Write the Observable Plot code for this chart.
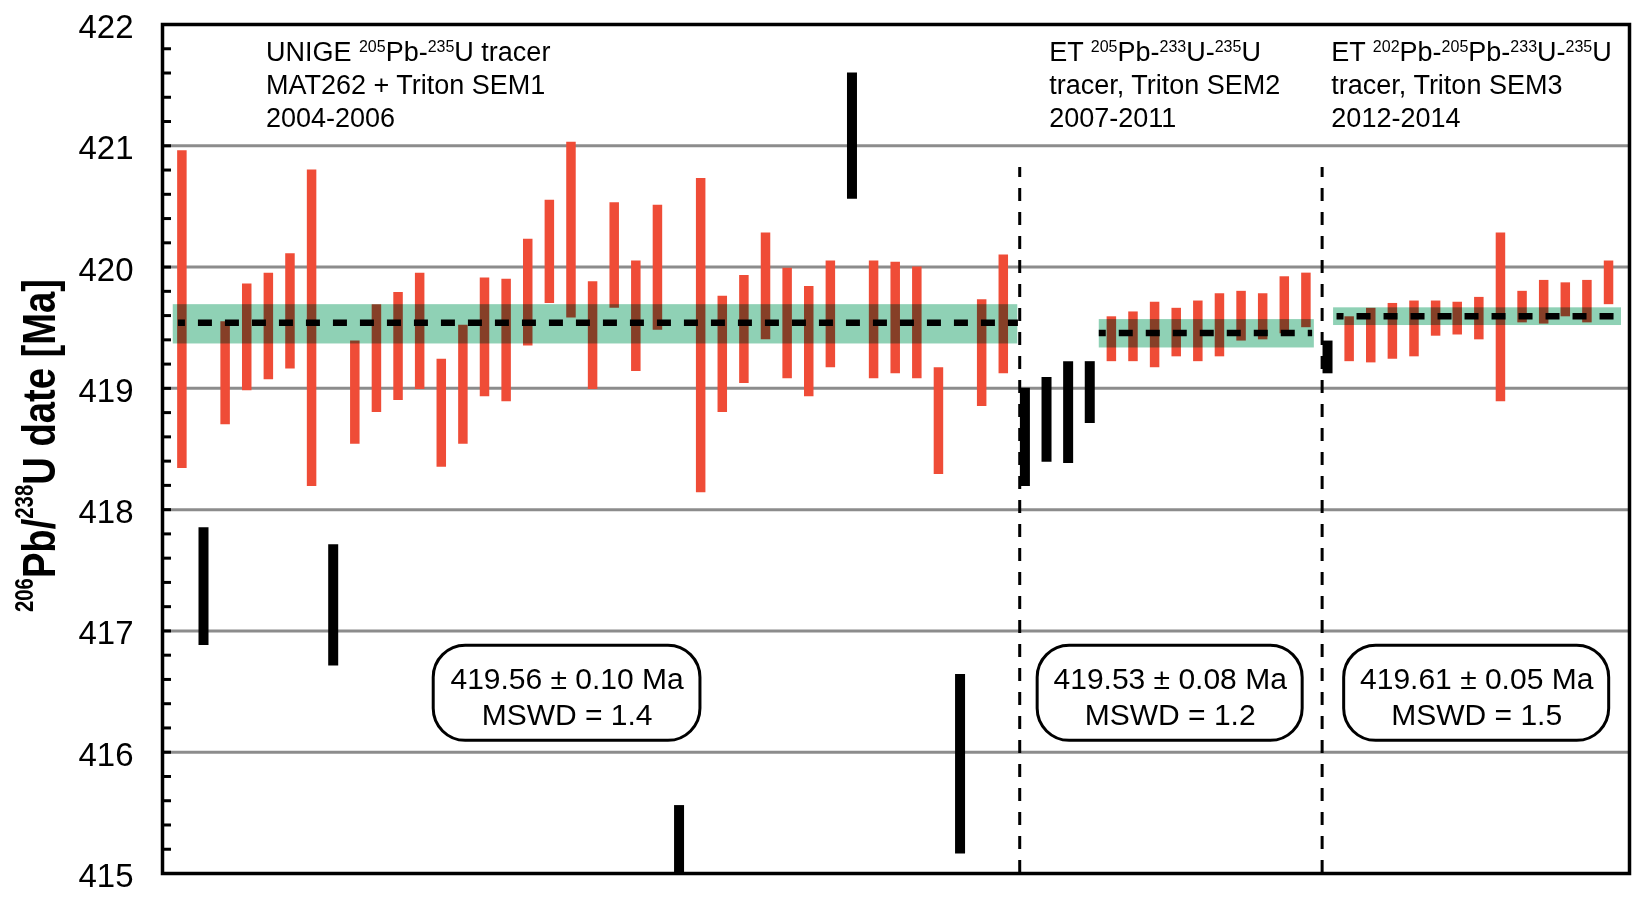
<!DOCTYPE html>
<html>
<head>
<meta charset="utf-8">
<script src="https://cdn.jsdelivr.net/npm/d3@7"></script>
<script src="https://cdn.jsdelivr.net/npm/@observablehq/plot@0.6"></script>
<style>
  html, body { margin: 0; padding: 0; background: #fff; }
  #chart { width: 1632px; height: 898px; }
</style>
</head>
<body>
<div id="chart"></div>
<script>
// ---------- data ----------
// analysis slots (left-to-right order) and 2-sigma ranges, Ma
const redSlot = [0,2,3,4,5,6,8,9,10,11,12,13,14,15,16,17,18,19,20,21,22,24,25,26,27,28,29,30,32,33,34,35,37,38,
                 43,44,45,46,47,48,49,50,51,52,
                 54,55,56,57,58,59,60,61,62,63,64,65,66];
const redLow  = [418.34,418.70,418.98,419.07,419.16,418.19,418.54,418.80,418.90,418.99,418.35,418.54,418.93,418.89,419.35,419.70,419.58,418.99,419.66,419.14,419.48,418.14,418.80,419.04,419.40,419.08,418.93,419.17,419.08,419.12,419.08,418.29,418.85,419.12,
                 419.22,419.22,419.17,419.26,419.22,419.26,419.39,419.40,419.45,419.50,
                 419.22,419.21,419.24,419.26,419.43,419.44,419.40,418.89,419.54,419.53,419.59,419.54,419.69];
const redHigh = [420.96,419.55,419.86,419.95,420.11,420.80,419.39,419.69,419.79,419.95,419.24,419.52,419.91,419.90,420.23,420.55,421.03,419.88,420.53,420.05,420.51,420.73,419.76,419.93,420.28,419.99,419.84,420.05,420.05,420.04,420.00,419.17,419.73,420.10,
                 419.59,419.63,419.71,419.66,419.72,419.78,419.80,419.78,419.92,419.95,
                 419.59,419.66,419.70,419.72,419.72,419.71,419.75,420.28,419.80,419.89,419.87,419.89,420.05];

// rejected analyses (black)
const blackSlot = [1,7,23,31,36,39,40,41,42,53];
const blackLow  = [416.88,416.71,415.00,420.56,415.16,418.19,418.39,418.38,418.71,419.12];
const blackHigh = [417.85,417.71,415.56,421.60,416.64,419.00,419.09,419.22,419.22,419.39];

// weighted means per tracer period
const meanAge    = [419.54, 419.457, 419.594];
const bandLow    = [419.366, 419.333, 419.518];
const bandHigh   = [419.690, 419.567, 419.664];
const bandFrom   = [-0.40, 42.44, 53.28];
const bandTo     = [38.67, 52.39, 66.60];
const meanFrom   = [-0.16, 42.44, 53.44];
const meanTo     = [38.70, 52.31, 66.40];

const separatorSlot = [38.76, 52.75];
const separatorTop  = 420.82;

const summaryAge  = ["419.56 ± 0.10 Ma", "419.53 ± 0.08 Ma", "419.61 ± 0.05 Ma"];
const summaryMswd = ["MSWD = 1.4", "MSWD = 1.2", "MSWD = 1.5"];
const boxFrom = [11.65, 39.59, 53.77];
const boxTo   = [23.99, 51.85, 66.03];

const headerLines = [
  ["UNIGE ^205Pb-^235U tracer", "MAT262 + Triton SEM1", "2004-2006"],
  ["ET ^205Pb-^233U-^235U", "tracer, Triton SEM2", "2007-2011"],
  ["ET ^202Pb-^205Pb-^233U-^235U", "tracer, Triton SEM3", "2012-2014"]
];
const headerSlot = [3.91, 40.15, 53.20];
const headerLineY = [421.695, 421.42, 421.153];

const yTicks = [415, 416, 417, 418, 419, 420, 421, 422];
const gridValues = [416, 417, 418, 419, 420, 421];
const minorTicks = d3.range(0, 36).map(i => 415 + i * 0.2);
const yTitle = "^206Pb/^238U date [Ma]";

// ---------- layout ----------
const W = 1632, H = 898;
const mL = 162, mR = 3, mT = 24, mB = 25;
const xDomain = [-0.897, 66.97];
const yDomain = [415, 422];
const FONT = "'Liberation Sans', Arial, Helvetica, sans-serif";
const RED = "#ef4c37", GREEN = "#8fd1b5", GRID = "#8c8c8c";

const redBars = redSlot.map((s, i) => ({slot: s, lo: redLow[i], hi: redHigh[i]}));
const blackBars = blackSlot.map((s, i) => ({slot: s, lo: blackLow[i], hi: blackHigh[i]}));
const bands = meanAge.map((m, i) => ({mean: m, lo: bandLow[i], hi: bandHigh[i], x1: bandFrom[i], x2: bandTo[i], m1: meanFrom[i], m2: meanTo[i]}));
const separators = separatorSlot.map(s => ({x: s, top: separatorTop, bottom: yDomain[0]}));
const boxes = summaryAge.map((a, i) => ({
  x1: boxFrom[i], x2: boxTo[i], xm: (boxFrom[i] + boxTo[i]) / 2,
  y1: 416.094, y2: 416.878, ym: 416.465,
  label: a + "\n" + summaryMswd[i]
}));

const frameW = W - mL - mR;

const plot = Plot.plot({
  width: W, height: H,
  marginLeft: mL, marginRight: mR, marginTop: mT, marginBottom: mB,
  x: {domain: xDomain, axis: null},
  y: {domain: yDomain, axis: null},
  style: {fontFamily: FONT, background: "white", color: "black"},
  marks: [
    Plot.ruleY(gridValues, {y: d => d, stroke: GRID, strokeWidth: 3}),
    Plot.ruleX(redBars, {x: "slot", y1: "lo", y2: "hi", stroke: RED, strokeWidth: 9.5}),
    Plot.ruleX(blackBars, {x: "slot", y1: "lo", y2: "hi", stroke: "black", strokeWidth: 10}),
    Plot.rect(bands, {x1: "x1", x2: "x2", y1: "lo", y2: "hi", fill: GREEN, mixBlendMode: "multiply"}),
    Plot.ruleY(bands, {y: "mean", x1: "m1", x2: "m2", stroke: "black", strokeWidth: 6.5, strokeDasharray: "14,13", strokeDashoffset: 7}),
    Plot.ruleX(separators, {x: "x", y1: "bottom", y2: "top", stroke: "black", strokeWidth: 3, strokeDasharray: "13,11"}),
    Plot.tickY(minorTicks, {y: d => d, insetRight: frameW - 9, stroke: "black", strokeWidth: 3}),
    Plot.frame({stroke: "black", strokeWidth: 3.5}),
    Plot.axisY({ticks: yTicks, tickSize: 0, tickPadding: 29, fontSize: 33, dy: 3, tickFormat: d => String(d)}),
    Plot.rect(boxes, {x1: "x1", x2: "x2", y1: "y1", y2: "y2", rx: 32, fill: "white", stroke: "black", strokeWidth: 3}),
    Plot.text(boxes, {x: "xm", y: "ym", text: "label", fontSize: 30, lineHeight: 1.2, fill: "black"})
  ]
});

document.getElementById("chart").appendChild(plot);

// ---------- rich text (superscripts) ----------
const sx = d3.scaleLinear(xDomain, [mL, W - mR]);
const sy = d3.scaleLinear(yDomain, [H - mB, mT]);
const svg = d3.select(plot);
const g = svg.append("g").attr("class", "annotations");

function richText(parent, str, o) {
  const t = parent.append("text")
    .attr("font-family", FONT)
    .attr("font-size", o.size)
    .attr("font-weight", o.weight || "normal")
    .attr("text-anchor", o.anchor || "start")
    .attr("fill", "black");
  if (o.transform) t.attr("transform", o.transform).attr("x", 0).attr("y", 0);
  else t.attr("x", o.x).attr("y", o.y);
  const parts = str.split(/(\^\d+)/).filter(s => s.length);
  let up = false;
  for (const p of parts) {
    if (p.startsWith("^")) {
      t.append("tspan").attr("font-size", o.supSize).attr("dy", up ? 0 : -o.raise).text(p.slice(1));
      up = true;
    } else {
      t.append("tspan").attr("dy", up ? o.raise : 0).text(p);
      up = false;
    }
  }
  if (o.textLength) t.attr("textLength", o.textLength).attr("lengthAdjust", "spacingAndGlyphs");
  return t;
}

headerLines.forEach((lines, k) => {
  lines.forEach((line, j) => {
    richText(g, line, {x: sx(headerSlot[k]), y: sy(headerLineY[j]), size: 27, supSize: 16, raise: 8.5});
  });
});

richText(g, yTitle, {
  transform: "translate(55,445.5) rotate(-90)",
  size: 47, supSize: 25, raise: 22, weight: "bold", anchor: "middle", textLength: 333
});
</script>
</body>
</html>
